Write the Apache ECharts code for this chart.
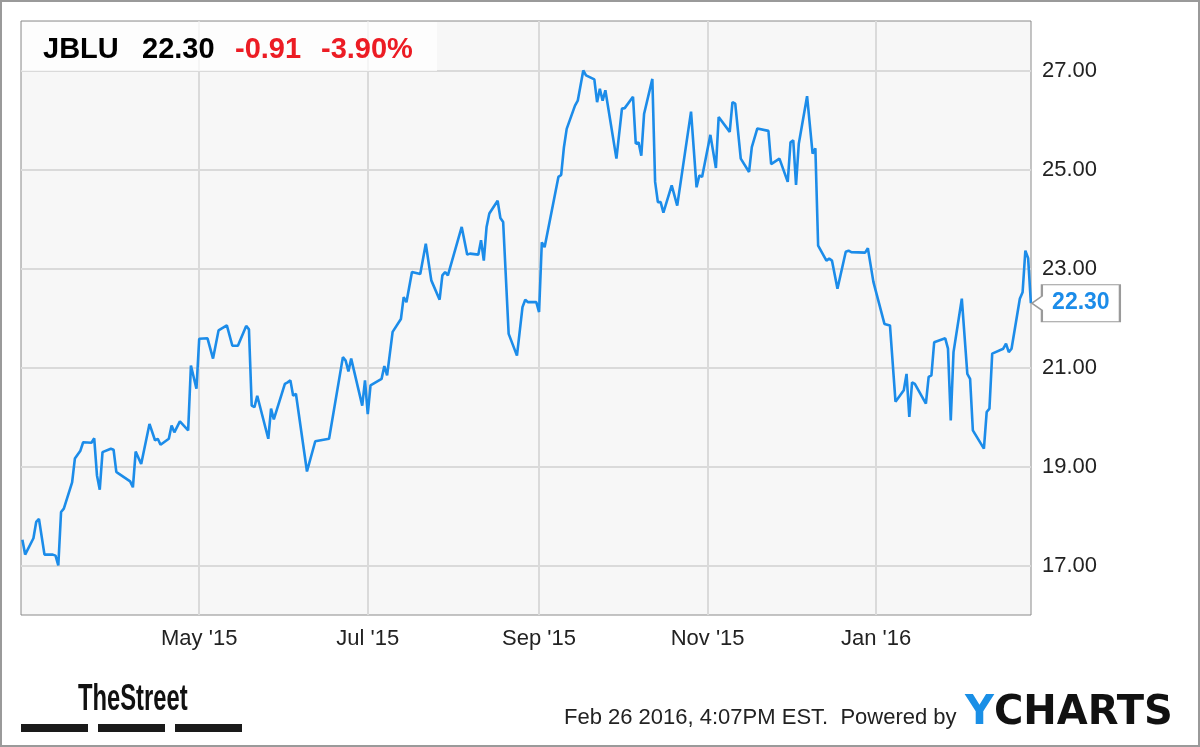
<!DOCTYPE html>
<html><head><meta charset="utf-8">
<script src="https://cdn.jsdelivr.net/npm/echarts@6/dist/echarts.min.js"></script>
<style>html,body{margin:0;padding:0;background:#fff}#c{width:1200px;height:747px}</style>
</head><body><div id="c"></div>
<script>
const dates = ['2015-02-26','2015-02-27','2015-03-02','2015-03-03','2015-03-04','2015-03-06','2015-03-09','2015-03-10','2015-03-11','2015-03-12','2015-03-13','2015-03-16','2015-03-17','2015-03-19','2015-03-20','2015-03-23','2015-03-24','2015-03-25','2015-03-26','2015-03-27','2015-03-30','2015-03-31','2015-04-01','2015-04-02','2015-04-06','2015-04-07','2015-04-08','2015-04-10','2015-04-13','2015-04-15','2015-04-16','2015-04-17','2015-04-20','2015-04-21','2015-04-22','2015-04-24','2015-04-27','2015-04-28','2015-04-30','2015-05-01','2015-05-04','2015-05-06','2015-05-08','2015-05-11','2015-05-13','2015-05-15','2015-05-18','2015-05-19','2015-05-20','2015-05-21','2015-05-22','2015-05-26','2015-05-27','2015-05-28','2015-06-01','2015-06-02','2015-06-03','2015-06-04','2015-06-05','2015-06-09','2015-06-12','2015-06-17','2015-06-22','2015-06-23','2015-06-24','2015-06-25','2015-06-29','2015-06-30','2015-07-01','2015-07-02','2015-07-06','2015-07-07','2015-07-08','2015-07-10','2015-07-13','2015-07-14','2015-07-15','2015-07-17','2015-07-20','2015-07-22','2015-07-24','2015-07-27','2015-07-28','2015-07-29','2015-07-30','2015-08-04','2015-08-06','2015-08-07','2015-08-10','2015-08-11','2015-08-12','2015-08-13','2015-08-14','2015-08-17','2015-08-18','2015-08-19','2015-08-21','2015-08-24','2015-08-26','2015-08-27','2015-08-28','2015-08-31','2015-09-01','2015-09-02','2015-09-03','2015-09-08','2015-09-09','2015-09-10','2015-09-11','2015-09-14','2015-09-15','2015-09-17','2015-09-18','2015-09-21','2015-09-22','2015-09-23','2015-09-24','2015-09-25','2015-09-29','2015-10-01','2015-10-02','2015-10-05','2015-10-06','2015-10-07','2015-10-08','2015-10-09','2015-10-12','2015-10-13','2015-10-14','2015-10-15','2015-10-16','2015-10-19','2015-10-21','2015-10-26','2015-10-28','2015-10-29','2015-10-30','2015-11-02','2015-11-04','2015-11-05','2015-11-09','2015-11-10','2015-11-11','2015-11-13','2015-11-16','2015-11-17','2015-11-19','2015-11-23','2015-11-24','2015-11-27','2015-11-30','2015-12-01','2015-12-02','2015-12-03','2015-12-04','2015-12-07','2015-12-09','2015-12-10','2015-12-11','2015-12-14','2015-12-15','2015-12-16','2015-12-18','2015-12-21','2015-12-22','2015-12-23','2015-12-28','2015-12-29','2015-12-31','2016-01-04','2016-01-06','2016-01-08','2016-01-11','2016-01-12','2016-01-13','2016-01-14','2016-01-15','2016-01-19','2016-01-20','2016-01-21','2016-01-22','2016-01-26','2016-01-27','2016-01-28','2016-01-29','2016-02-01','2016-02-03','2016-02-04','2016-02-05','2016-02-09','2016-02-10','2016-02-11','2016-02-12','2016-02-16','2016-02-17','2016-02-18','2016-02-19','2016-02-22','2016-02-23','2016-02-24','2016-02-25','2016-02-26'];
const prices = [17.52,17.22,17.55,17.88,17.94,17.22,17.22,17.20,17.00,18.08,18.15,18.68,19.16,19.32,19.49,19.48,19.57,18.82,18.53,19.29,19.36,19.34,18.89,18.85,18.70,18.58,19.30,19.05,19.86,19.53,19.56,19.44,19.56,19.83,19.69,19.91,19.73,21.04,20.57,21.58,21.59,21.18,21.75,21.85,21.44,21.44,21.84,21.77,20.23,20.20,20.43,19.56,20.17,19.95,20.67,20.70,20.74,20.43,20.47,18.90,19.51,19.56,21.21,21.14,20.92,21.18,20.23,20.74,20.06,20.64,20.77,21.03,20.84,21.72,21.98,22.42,22.32,22.93,22.89,23.50,22.76,22.37,22.86,22.93,22.86,23.84,23.28,23.30,23.28,23.57,23.16,23.84,24.11,24.37,24.02,23.94,21.68,21.24,22.22,22.37,22.32,22.32,22.12,23.53,23.43,24.85,24.89,25.45,25.82,26.29,26.39,27.00,26.90,26.82,26.36,26.63,26.39,26.60,25.22,26.23,26.24,26.47,25.52,25.55,25.28,26.12,26.83,24.75,24.34,24.34,24.13,24.68,24.27,26.17,24.64,24.88,24.85,25.70,25.03,26.06,25.76,26.36,26.33,25.22,24.95,25.45,25.83,25.78,25.11,25.22,24.75,25.55,25.59,24.69,25.52,26.48,25.32,25.43,23.46,23.16,23.20,23.16,22.59,23.34,23.36,23.33,23.32,23.41,22.73,21.88,21.85,20.31,20.54,20.87,20.00,20.70,20.67,20.27,20.81,20.84,21.51,21.59,21.38,19.93,21.31,22.39,20.87,20.77,19.73,19.36,20.10,20.17,21.28,21.38,21.48,21.31,21.38,22.39,22.52,23.36,23.21,22.30];
const xTickDates = ['2015-05-01','2015-07-01','2015-09-01','2015-11-01','2016-01-01'];
const yTickValues = [17, 19, 21, 23, 25, 27];
const monthNames = ['Jan','Feb','Mar','Apr','May','Jun','Jul','Aug','Sep','Oct','Nov','Dec'];
const ticker = 'JBLU';
const lastPriceText = '22.30';
const changeText = '-0.91';
const changePctText = '-3.90%';
const footerText = 'Feb 26 2016, 4:07PM EST.  Powered by';

function toTs(s) { const p = s.split('-').map(Number); return new Date(p[0], p[1] - 1, p[2]).getTime(); }
const seriesData = dates.map((d, i) => [toTs(d), prices[i]]);
const xTicks = xTickDates.map(toTs);
const last = seriesData[seriesData.length - 1];

const BLUE = '#1c8ce9';
const RED = '#ec1c24';
const GRID = '#dadada';

const chart = echarts.init(document.getElementById('c'), null, { renderer: 'canvas' });
chart.setOption({
  animation: false,
  backgroundColor: '#ffffff',
  grid: { left: 21, top: 21, right: 169, bottom: 132, show: true, backgroundColor: '#f7f7f7', borderColor: '#8a8a8a', borderWidth: 1 },
  xAxis: {
    type: 'value',
    min: new Date(2015, 1, 25, 12).getTime(),
    max: new Date(2016, 1, 26, 1).getTime(),
    axisLine: { show: false },
    axisTick: { show: false, customValues: xTicks },
    axisLabel: {
      customValues: xTicks,
      margin: 13,
      color: '#222',
      fontFamily: 'Liberation Sans',
      fontSize: 22,
      formatter: v => { const d = new Date(v); return monthNames[d.getMonth()] + " '" + String(d.getFullYear()).slice(2); }
    },
    splitLine: { show: true, lineStyle: { color: GRID, width: 2 } }
  },
  yAxis: {
    type: 'value',
    position: 'right',
    min: 16,
    max: 28,
    axisLine: { show: false },
    axisTick: { show: false, customValues: yTickValues },
    axisLabel: {
      customValues: yTickValues,
      margin: 11,
      color: '#222',
      fontFamily: 'Liberation Sans',
      fontSize: 22,
      formatter: v => v.toFixed(2)
    },
    splitLine: { show: true, lineStyle: { color: GRID, width: 2 } }
  },
  series: [{
    type: 'line',
    data: seriesData,
    showSymbol: false,
    symbol: 'none',
    lineStyle: { color: BLUE, width: 2.6 },
    clip: false,
    markPoint: {
      silent: true,
      symbol: 'path://M0,18.5L10,11.5L10,0L88,0L88,37L10,37L10,25.5Z',
      symbolSize: [88, 37],
      symbolOffset: [45, 0],
      itemStyle: { color: '#ffffff', borderColor: '#9a9a9a', borderWidth: 1.5 },
      label: {
        show: true, position: 'inside', offset: [5, 0],
        color: BLUE, fontFamily: 'Liberation Sans', fontWeight: 'bold', fontSize: 23,
        formatter: p => Number(p.value).toFixed(2)
      },
      data: [{ coord: last, value: last[1] }]
    }
  }],
  graphic: [
    { type: 'rect', z: 10, shape: { x: 22, y: 22, width: 415, height: 49 }, style: { fill: 'rgba(255,255,255,0.72)' } },
    { type: 'text', z: 11, x: 43, y: 50, style: { text: ticker, fill: '#000', font: 'bold 29px "Liberation Sans"', textVerticalAlign: 'middle' } },
    { type: 'text', z: 11, x: 142, y: 50, style: { text: lastPriceText, fill: '#000', font: 'bold 29px "Liberation Sans"', textVerticalAlign: 'middle' } },
    { type: 'text', z: 11, x: 235, y: 50, style: { text: changeText, fill: RED, font: 'bold 29px "Liberation Sans"', textVerticalAlign: 'middle' } },
    { type: 'text', z: 11, x: 321, y: 50, style: { text: changePctText, fill: RED, font: 'bold 29px "Liberation Sans"', textVerticalAlign: 'middle' } },
    { type: 'text', z: 11, x: 78, y: 700, scaleX: 0.66, style: { text: 'TheStreet', fill: '#111', font: 'bold 36px "Liberation Sans"', textVerticalAlign: 'middle' } },
    { type: 'rect', z: 11, shape: { x: 21, y: 724, width: 67, height: 8 }, style: { fill: '#1a1a1a' } },
    { type: 'rect', z: 11, shape: { x: 98, y: 724, width: 67, height: 8 }, style: { fill: '#1a1a1a' } },
    { type: 'rect', z: 11, shape: { x: 175, y: 724, width: 67, height: 8 }, style: { fill: '#1a1a1a' } },
    { type: 'text', z: 11, x: 564, y: 718, style: { text: footerText, fill: '#222', font: '22px "Liberation Sans"', textVerticalAlign: 'middle' } },
    { type: 'text', z: 11, x: 965, y: 714, style: { text: '{y|Y}{c|CHARTS}', textVerticalAlign: 'middle',
        rich: { y: { fill: '#1a8fe6', font: 'bold 40px "DejaVu Sans"' }, c: { fill: '#111', font: 'bold 40px "DejaVu Sans"' } } } },
    { type: 'rect', z: 20, silent: true, shape: { x: 1, y: 1, width: 1198, height: 745 }, style: { fill: 'none', stroke: '#9a9a9a', lineWidth: 2 } }
  ]
});
</script></body></html>
